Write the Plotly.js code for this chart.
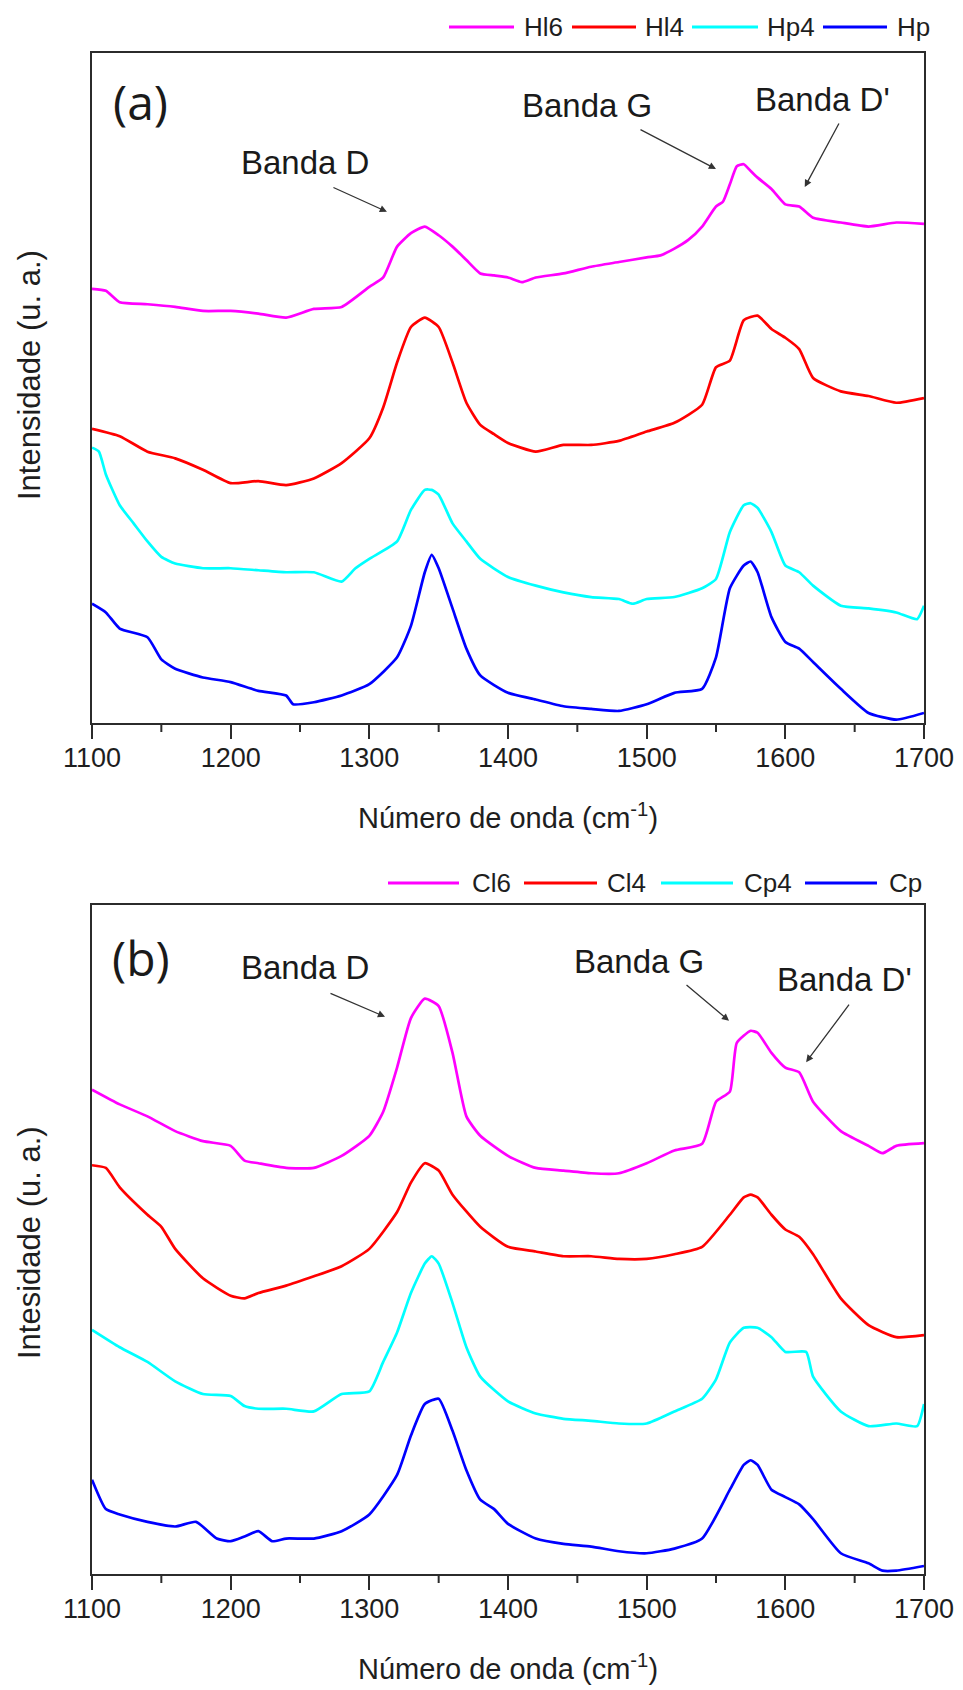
<!DOCTYPE html>
<html>
<head>
<meta charset="utf-8">
<script src="https://cdn.plot.ly/plotly-3.0.1.min.js"></script>
<style>html,body{margin:0;padding:0;background:#fff;}#chart{width:963px;height:1690px;}</style>
</head>
<body>
<div id="chart"></div>
<script>
// ---- Panel (a) ----
const hl6_x = [1100,1110,1120,1140,1160,1180,1200,1220,1240,1260,1280,1300,1310,1320,1330,1340,1350,1360,1370,1380,1390,1400,1410,1420,1440,1460,1480,1500,1510,1520,1530,1540,1550,1555,1560,1565,1570,1575,1580,1590,1600,1610,1620,1640,1660,1680,1700];
const hl6_y = [64.8,64.5,62.8,62.5,62.1,61.5,61.5,61.1,60.5,61.8,62.1,65.1,66.5,71.1,73.1,74.1,72.8,71.1,69.1,67.1,66.8,66.5,65.8,66.5,67.1,68.1,68.8,69.5,69.8,70.8,72.1,74.1,77.1,77.8,80.4,83.1,83.4,82.4,81.4,79.7,77.4,77.1,75.4,74.7,74.1,74.7,74.5];

const hl4_x = [1100,1120,1140,1160,1180,1200,1220,1240,1260,1280,1300,1310,1320,1330,1340,1350,1360,1370,1380,1390,1400,1420,1440,1460,1480,1500,1520,1540,1550,1560,1570,1580,1590,1600,1610,1620,1640,1660,1680,1700];
const hl4_y = [43.9,42.8,40.5,39.5,37.8,35.8,36.1,35.5,36.5,38.8,42.5,47.1,53.8,59.1,60.5,59.1,53.8,47.8,44.5,43.1,41.8,40.5,41.5,41.5,42.1,43.5,44.8,47.5,53.1,54.1,60.1,60.8,58.8,57.5,55.8,51.5,49.5,48.8,47.8,48.5];

const hp4_x = [1100,1105,1110,1120,1130,1140,1150,1160,1180,1200,1220,1240,1260,1280,1290,1300,1320,1330,1340,1345,1350,1360,1370,1380,1400,1420,1440,1460,1480,1490,1500,1520,1540,1550,1560,1570,1575,1580,1590,1600,1610,1620,1640,1660,1680,1695,1700];
const hp4_y = [41.1,40.5,37.1,32.5,29.8,27.1,24.8,23.8,23.1,23.1,22.8,22.5,22.5,21.1,23.1,24.5,27.1,31.8,34.8,34.8,34.1,29.8,27.1,24.5,21.8,20.5,19.5,18.8,18.5,17.8,18.5,18.8,20.1,21.5,28.5,32.5,32.8,32.1,28.5,23.5,22.5,20.5,17.5,17.1,16.5,15.5,17.5];

const hp_x = [1100,1110,1120,1140,1150,1160,1180,1200,1220,1240,1245,1260,1280,1300,1320,1330,1340,1345,1350,1360,1370,1380,1400,1420,1440,1460,1480,1500,1520,1540,1550,1560,1570,1575,1580,1590,1600,1610,1620,1640,1660,1680,1700];
const hp_y = [17.8,16.5,14.1,12.8,9.5,8.1,6.8,6.1,4.8,4.1,2.8,3.1,4.1,5.8,9.8,14.5,22.5,25.1,23.1,17.1,11.1,7.1,4.5,3.5,2.5,2.1,1.8,2.8,4.5,5.1,9.8,20.1,23.5,24.1,22.5,15.8,12.1,11.1,9.1,5.1,1.5,0.5,1.5];

// ---- Panel (b) ----
const cl6_x = [1100,1120,1140,1160,1180,1200,1210,1220,1240,1260,1280,1300,1310,1320,1330,1340,1350,1360,1370,1380,1400,1420,1440,1460,1480,1500,1520,1540,1550,1560,1565,1575,1580,1590,1600,1610,1620,1640,1660,1670,1680,1700];
const cl6_y = [72.4,70.2,68.4,66.2,64.7,64.0,61.8,61.4,60.7,60.7,62.5,65.5,69.1,75.7,83.1,86.0,84.9,77.9,68.4,65.5,62.5,60.7,60.3,59.9,59.9,61.4,63.3,64.3,70.6,72.1,79.4,81.2,80.9,77.9,75.7,75.0,70.6,66.2,64.0,62.9,64.0,64.4];

const cl4_x = [1100,1110,1120,1140,1150,1160,1180,1200,1210,1220,1240,1260,1280,1300,1320,1330,1340,1350,1360,1380,1400,1420,1440,1460,1480,1500,1520,1540,1560,1570,1575,1580,1590,1600,1610,1620,1640,1660,1680,1700];
const cl4_y = [61.1,60.7,57.8,53.7,51.9,48.6,44.2,41.6,41.2,42.0,43.1,44.5,46.0,48.6,54.1,58.5,61.4,60.3,56.7,51.9,48.9,48.2,47.5,47.5,47.1,47.1,47.8,48.9,53.7,56.3,56.7,56.3,53.7,51.5,50.4,47.8,41.2,37.2,35.4,35.7];

const cp4_x = [1100,1120,1140,1160,1180,1200,1210,1220,1240,1260,1280,1300,1310,1320,1330,1340,1345,1350,1360,1370,1380,1400,1420,1440,1460,1480,1500,1520,1540,1550,1560,1570,1580,1590,1600,1615,1620,1640,1660,1680,1695,1700];
const cp4_y = [36.5,33.9,31.7,28.8,26.9,26.6,25.1,24.7,24.7,24.3,26.9,27.3,31.7,36.1,42.0,46.4,47.5,46.4,40.5,33.9,29.5,25.8,24.0,23.2,22.9,22.5,22.5,24.3,26.2,29.1,34.6,36.8,36.8,35.4,33.2,33.2,29.5,24.3,22.1,22.5,22.1,25.4];

const cp_x = [1100,1110,1120,1140,1160,1175,1190,1200,1210,1220,1230,1240,1260,1280,1300,1320,1330,1340,1350,1360,1370,1380,1390,1400,1420,1440,1460,1480,1500,1520,1540,1560,1570,1575,1580,1590,1600,1610,1620,1640,1660,1670,1680,1700];
const cp_y = [14.1,9.7,8.9,7.8,7.1,7.8,5.3,4.9,5.6,6.4,4.9,5.3,5.3,6.4,8.9,14.8,20.7,25.4,26.2,21.4,15.5,11.1,9.7,7.5,5.3,4.5,4.1,3.4,3.1,3.8,5.3,12.6,16.3,17.0,16.3,12.6,11.5,10.4,8.2,3.1,1.6,0.5,0.5,1.2];

const names_a = ["Hl6", "Hl4", "Hp4", "Hp"];
const names_b = ["Cl6", "Cl4", "Cp4", "Cp"];
const colors = ["#ff00ff", "#ff0000", "#00ffff", "#0000ff"];
const majorTicks = [1100, 1200, 1300, 1400, 1500, 1600, 1700];
const minorTicks = [1150, 1250, 1350, 1450, 1550, 1650];

const W = 963, H = 1690;
const px = v => v / W;
const py = v => 1 - v / H;

const series_a = [[hl6_x, hl6_y], [hl4_x, hl4_y], [hp4_x, hp4_y], [hp_x, hp_y]];
const series_b = [[cl6_x, cl6_y], [cl4_x, cl4_y], [cp4_x, cp4_y], [cp_x, cp_y]];

const traces = [];
series_a.forEach((s, i) => traces.push({
  x: s[0], y: s[1], name: names_a[i], type: "scatter", mode: "lines",
  line: {color: colors[i], width: 2.7, shape: "spline", smoothing: 0.5},
  xaxis: "x", yaxis: "y", showlegend: false, hoverinfo: "skip"
}));
series_b.forEach((s, i) => traces.push({
  x: s[0], y: s[1], name: names_b[i], type: "scatter", mode: "lines",
  line: {color: colors[i], width: 2.7, shape: "spline", smoothing: 0.5},
  xaxis: "x2", yaxis: "y2", showlegend: false, hoverinfo: "skip"
}));

const axisCol = "#2b2b2b";
const tickFont = {family: "Liberation Sans, Arial, sans-serif", size: 27, color: "#1e1e1e"};
const titleFont = {family: "Liberation Sans, Arial, sans-serif", size: 29, color: "#1e1e1e"};
const yTitleFont = {family: "Liberation Sans, Arial, sans-serif", size: 31, color: "#1e1e1e"};
function xax(anchor) {
  return {
    domain: [px(92), px(924)], anchor: anchor, range: [1100, 1700],
    showline: true, mirror: true, linecolor: axisCol, linewidth: 2,
    tickmode: "array", tickvals: majorTicks, ticktext: majorTicks.map(String),
    ticks: "outside", ticklen: 14, tickwidth: 2, tickcolor: axisCol,
    tickfont: tickFont, ticklabelstandoff: -4,
    showgrid: false, zeroline: false,
    title: {text: "Número de onda (cm<sup>-1</sup>)", font: titleFont, standoff: 35}
  };
}
function yax(dom, anchor) {
  return {
    domain: dom, anchor: anchor, range: [0, 100],
    showline: true, mirror: true, linecolor: axisCol, linewidth: 2,
    ticks: "", showticklabels: false, showgrid: false, zeroline: false
  };
}

const annFont = {family: "Liberation Sans, Arial, sans-serif", size: 33, color: "#1a1a1a"};
const panelFont = {family: "Open Sans, sans-serif", size: 48, color: "#1a1a1a"};
const annotations = [];
function txt(xref, yref, x, y, text, font) {
  annotations.push({xref, yref, x, y, text, showarrow: false, font, xanchor: "center", yanchor: "middle"});
}
function arr(xref, yref, x, y, ax, ay) {
  annotations.push({xref, yref, x, y, ax, ay, text: "", showarrow: true,
    arrowhead: 2, arrowsize: 1.1, arrowwidth: 1.3, arrowcolor: "#333"});
}
// panel (a)
txt("x", "y", 1135, 92.7, "(a)", panelFont);
txt("x", "y", 1253.6, 83.6, "Banda D", annFont);
txt("x", "y", 1457, 92.2, "Banda G", annFont);
txt("x", "y", 1627, 93.1, "Banda D'", annFont);
arr("x", "y", 1312.7, 76.3, -55, -25);
arr("x", "y", 1550, 82.7, -77, -40);
arr("x", "y", 1614, 80.0, 35, -65);
// panel (b)
txt("x2", "y2", 1135, 92.2, "(b)", panelFont);
txt("x2", "y2", 1253.6, 90.7, "Banda D", annFont);
txt("x2", "y2", 1494.5, 91.5, "Banda G", annFont);
txt("x2", "y2", 1643, 88.9, "Banda D'", annFont);
arr("x2", "y2", 1311.3, 83.3, -56, -24);
arr("x2", "y2", 1559.4, 82.7, -44, -37);
arr("x2", "y2", 1615, 76.5, 44, -59);
// y titles
annotations.push({xref: "paper", yref: "paper", x: px(29), y: py(375), text: "Intensidade (u. a.)",
  textangle: -90, showarrow: false, font: yTitleFont, xanchor: "center", yanchor: "middle"});
annotations.push({xref: "paper", yref: "paper", x: px(29), y: py(1243), text: "Intesidade (u. a.)",
  textangle: -90, showarrow: false, font: yTitleFont, xanchor: "center", yanchor: "middle"});

const shapes = [];
// minor ticks (x positioned on the data axis, outside the frame)
[["x", 723], ["x2", 1574]].forEach(([xr, base]) => {
  minorTicks.forEach(v => shapes.push({type: "line", xref: xr, yref: "paper", x0: v, x1: v,
    y0: py(base), y1: py(base + 9), line: {color: axisCol, width: 2}}));
});

// legends (drawn as line samples + labels)
const legFont = {family: "Liberation Sans, Arial, sans-serif", size: 26, color: "#1e1e1e"};
const legA = {y: 27, lines: [[449, 514], [572, 636], [692, 758], [823, 887]], text: [522, 643, 765, 895]};
const legB = {y: 883, lines: [[388, 459], [524, 597], [661, 733], [805, 877]], text: [470, 605, 742, 887]};
[[legA, names_a], [legB, names_b]].forEach(([L, nm]) => {
  L.lines.forEach((ln, i) => {
    shapes.push({type: "line", xref: "paper", yref: "paper", x0: px(ln[0]), x1: px(ln[1]), y0: py(L.y), y1: py(L.y),
      line: {color: colors[i], width: 3}});
    annotations.push({xref: "paper", yref: "paper", x: px(L.text[i]), y: py(L.y), text: nm[i],
      showarrow: false, font: legFont, xanchor: "left", yanchor: "middle"});
  });
});

const layout = {
  width: W, height: H,
  margin: {l: 0, r: 0, t: 0, b: 0},
  paper_bgcolor: "#ffffff", plot_bgcolor: "#ffffff",
  showlegend: false,
  xaxis: xax("y"),
  yaxis: yax([py(723), py(53)], "x"),
  xaxis2: xax("y2"),
  yaxis2: yax([py(1574), py(905)], "x2"),
  annotations: annotations,
  shapes: shapes
};

Plotly.newPlot("chart", traces, layout, {staticPlot: true, displayModeBar: false});
</script>
</body>
</html>
